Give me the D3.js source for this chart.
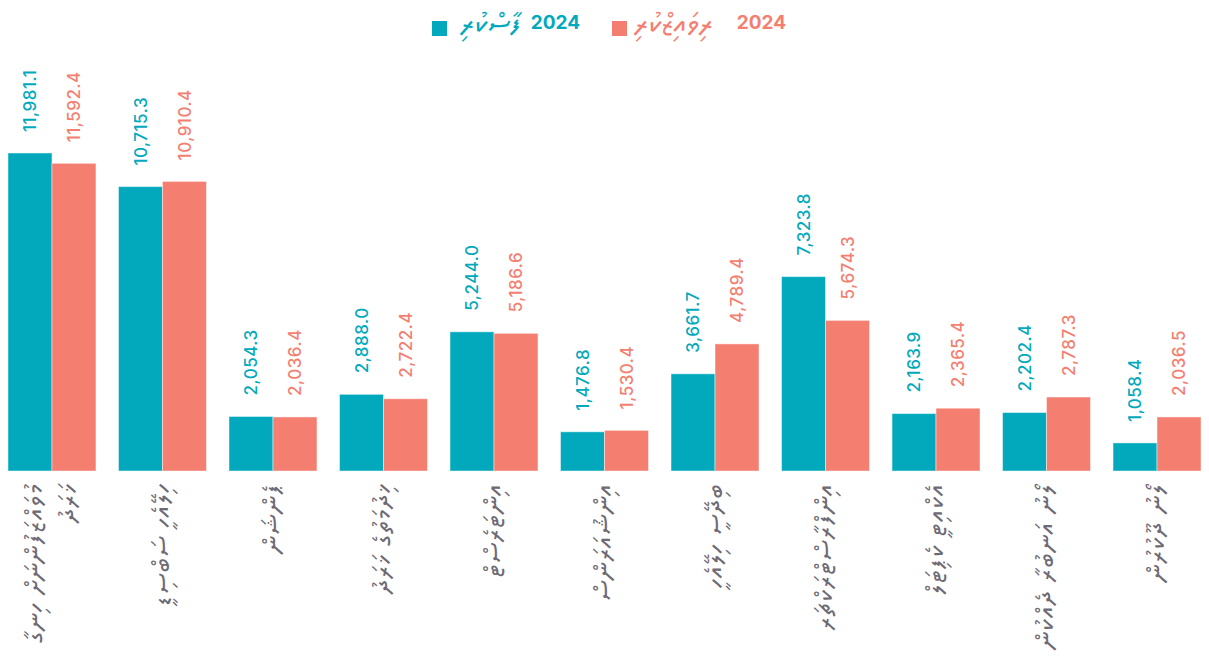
<!DOCTYPE html>
<html>
<head>
<meta charset="utf-8">
<script src="https://cdn.jsdelivr.net/npm/d3@7"></script>
<style>
  html, body { margin: 0; padding: 0; background: #fff; }
  svg { display: block; }
  .val { font-family: Inter, Lato, sans-serif; font-weight: 500; font-size: 17px; letter-spacing: 0.5px; }
  .cat { font-family: "Noto Sans Thaana", Faruma, "MV Boli", sans-serif; font-size: 26px; letter-spacing: 1.5px; fill: #6d6a75; }
  .leg { font-family: Inter, Lato, sans-serif; font-weight: 700; font-size: 19px; }
  .legw { font-family: "Noto Sans Thaana", Faruma, "MV Boli", sans-serif; font-size: 29px; }
</style>
</head>
<body>
<div id="chart"></div>
<script>
// budget categories (Dhivehi), one array per label = lines
const categories = [
  ["މުވައްޒަފުންނަށް ހިނގާ", "ޚަރަދު"],
  ["ހިލޭއެހީ ސަބްސިޑީ"],
  ["ޕެންޝަން"],
  ["ޚިދުމަތުގެ ޚަރަދު"],
  ["އިންޓަރެސްޓް"],
  ["އިންޝުއަރަންސް"],
  ["ބިދޭސީ ހިލޭއެހީ"],
  ["އިންފްރާސްޓްރަކްޗަރ"],
  ["އެކްއިޓީ ކެޕިޓަލް"],
  ["ލޯނު އަނބުރާ ދެއްކުން"],
  ["ލޯނު ދޫކުރުން"]
];
const approved2024 = [11981.1, 10715.3, 2054.3, 2888.0, 5244.0, 1476.8, 3661.7, 7323.8, 2163.9, 2202.4, 1058.4];
const revised2024  = [11592.4, 10910.4, 2036.4, 2722.4, 5186.6, 1530.4, 4789.4, 5674.3, 2365.4, 2787.3, 2036.5];
const seriesNames = ["ފާސްކުރި", "ރިވައިޒްކުރި"];
const seriesYear = "2024";

const colors = ["#02a9bd", "#f47e70"];
const W = 1209, H = 660;

const svg = d3.select("#chart").append("svg")
  .attr("width", W).attr("height", H);

const idx = d3.range(categories.length);
const x = d3.scaleBand().domain(idx).range([8, 1201]).paddingInner(0.204).paddingOuter(0);
const xs = d3.scaleBand().domain([0, 1]).range([0, x.bandwidth()]);
const y = d3.scaleLinear().domain([0, 12000]).range([471, 152.5]);
const fmt = d3.format(",.1f");

const series = [approved2024, revised2024];

// bars + value labels
series.forEach(function(vals, s) {
  const g = svg.append("g");
  g.selectAll("rect").data(vals).enter().append("rect")
    .attr("x", (d, i) => x(i) + xs(s))
    .attr("y", d => y(d))
    .attr("width", xs.bandwidth())
    .attr("height", d => y(0) - y(d))
    .attr("fill", colors[s])
    .attr("stroke", "rgba(255,255,255,0.45)")
    .attr("stroke-width", 1);

  g.selectAll("text").data(vals).enter().append("text")
    .attr("class", "val")
    .attr("fill", colors[s])
    .attr("transform", (d, i) => "translate(" + (x(i) + xs(s) + xs.bandwidth() / 2) + "," + (y(d) - 21) + ") rotate(-90)")
    .attr("dy", "0.36em")
    .attr("text-anchor", "start")
    .text(d => fmt(d));
});

// category labels, rotated, hanging under the baseline
const lineGap = 34;
categories.forEach(function(lines, i) {
  const t = svg.append("text")
    .attr("class", "cat")
    .attr("transform", "translate(" + (x(i) + x.bandwidth() / 2) + ",483) rotate(-90)")
    .attr("text-anchor", "end");
  lines.forEach(function(line, k) {
    t.append("tspan")
      .attr("x", 0)
      .attr("y", (k - (lines.length - 1) / 2) * lineGap)
      .attr("dy", "0.3em")
      .text(line);
  });
});

// legend
const legX = [432, 612];
const wordEnd = [521, 713];
const yearEnd = [580, 786];
seriesNames.forEach(function(name, s) {
  svg.append("rect")
    .attr("x", legX[s]).attr("y", 21)
    .attr("width", 15).attr("height", 15)
    .attr("fill", colors[s]);
  svg.append("text").attr("class", "legw")
    .attr("x", wordEnd[s]).attr("y", 24).attr("dy", "0.3em")
    .attr("text-anchor", "end").attr("fill", colors[s])
    .text(name);
  svg.append("text").attr("class", "leg")
    .attr("x", yearEnd[s]).attr("y", 22).attr("dy", "0.35em")
    .attr("text-anchor", "end").attr("fill", colors[s])
    .text(seriesYear);
});
</script>
</body>
</html>
